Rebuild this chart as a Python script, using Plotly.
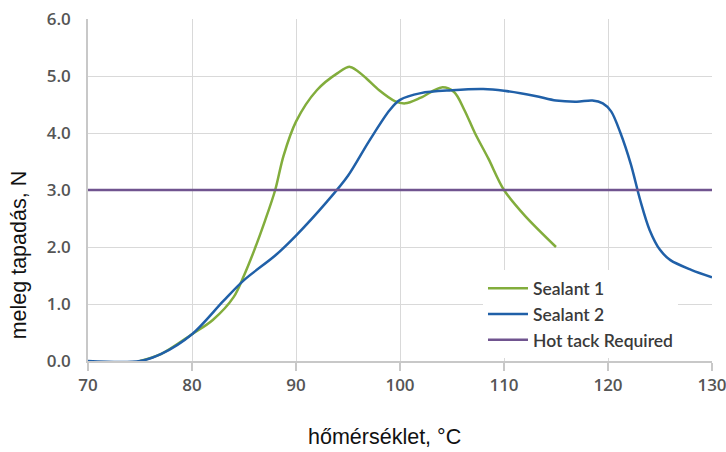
import plotly.graph_objects as go

s1_x = [75, 77, 80, 82, 84, 85, 86, 87, 88, 88.8, 90, 92, 94, 95.2, 96.5, 98, 99.5, 100.5, 102, 104, 105.2, 106.2, 107.2, 108.5, 110, 112, 115]
s1_y = [0, 0.12, 0.47, 0.72, 1.12, 1.5, 1.95, 2.45, 3.0, 3.6, 4.2, 4.75, 5.05, 5.16, 5.0, 4.75, 4.56, 4.52, 4.62, 4.8, 4.72, 4.4, 4.0, 3.55, 3.0, 2.55, 2.0]

s2_x = [70, 75, 77, 80, 83, 85, 88, 90, 93, 95, 97, 99, 100, 102, 105, 108, 110, 113, 115, 117, 118.5, 119.5, 120.3, 121.2, 122.2, 123.1, 124, 125, 126, 128, 130]
s2_y = [0, 0, 0.12, 0.47, 1.05, 1.42, 1.85, 2.2, 2.8, 3.25, 3.85, 4.4, 4.58, 4.7, 4.75, 4.77, 4.74, 4.65, 4.57, 4.55, 4.57, 4.52, 4.38, 4.0, 3.45, 2.82, 2.3, 1.95, 1.77, 1.6, 1.47]

req_x = [70, 130]
req_y = [3.0, 3.0]

x_ticks = [70, 80, 90, 100, 110, 120, 130]
y_ticks = [0, 1, 2, 3, 4, 5, 6]
y_labels = ["0.0", "1.0", "2.0", "3.0", "4.0", "5.0", "6.0"]

x_title = "hőmérséklet, °C"
y_title = "meleg tapadás, N"

fig = go.Figure()
fig.add_trace(go.Scatter(x=s1_x, y=s1_y, mode="lines", name="Sealant 1",
                         line=dict(color="#82ad3c", width=2.5, shape="spline", smoothing=0.9)))
fig.add_trace(go.Scatter(x=s2_x, y=s2_y, mode="lines", name="Sealant 2",
                         line=dict(color="#2060a8", width=2.5, shape="spline", smoothing=0.9)))
fig.add_trace(go.Scatter(x=req_x, y=req_y, mode="lines", name="Hot tack Required",
                         line=dict(color="#70548f", width=2.5)))

tickfont = dict(family="Open Sans, Arial, sans-serif", size=17, color="#555555", weight=600)
titlefont = dict(family="Arial, Liberation Sans", size=21.5, color="#111111")

fig.update_layout(
    width=726, height=452,
    margin=dict(l=88, r=14, t=19, b=91, autoexpand=False),
    paper_bgcolor="white", plot_bgcolor="white",
    showlegend=True,
    legend=dict(x=0.633, y=0.265, xanchor="left", yanchor="top",
                bgcolor="white", font=dict(family="Lato, Open Sans, sans-serif", size=17.5, color="#3a3a3a", weight=600),
                tracegroupgap=0, itemwidth=40),
    xaxis=dict(range=[70, 130], tickvals=x_ticks, ticktext=[str(v) for v in x_ticks],
               showgrid=True, gridcolor="#d9d9d9", gridwidth=1,
               showline=True, linecolor="#c8c8c8", linewidth=1.5,
               ticks="outside", ticklen=8, tickcolor="#c8c8c8", tickwidth=1.5,
               tickfont=tickfont, zeroline=False, ticklabeloverflow="allow", automargin=False),
    yaxis=dict(range=[0, 6], tickvals=y_ticks, ticktext=y_labels,
               showgrid=True, gridcolor="#d9d9d9", gridwidth=1,
               showline=True, linecolor="#c8c8c8", linewidth=1.5,
               ticks="", ticklabelstandoff=12, automargin=False,
               tickfont=tickfont, zeroline=False, ticklabeloverflow="allow"),
    annotations=[
        dict(text=x_title, xref="paper", yref="paper", x=0.475, y=-0.222,
             xanchor="center", yanchor="middle", showarrow=False, font=titlefont),
        dict(text=y_title, xref="paper", yref="paper", x=-0.110, y=0.31, textangle=-90,
             xanchor="center", yanchor="middle", showarrow=False, font=titlefont),
    ],
)

fig.write_html("out.html")
